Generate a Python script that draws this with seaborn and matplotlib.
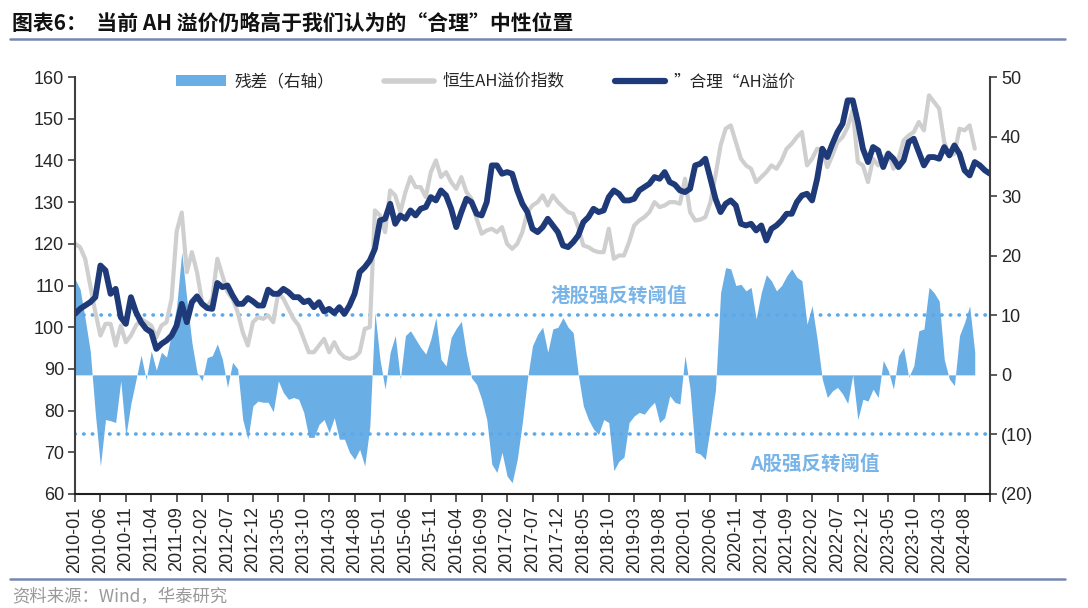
import numpy as np
import pandas as pd
import seaborn as sns
import matplotlib.pyplot as plt
from matplotlib.patches import Patch
from matplotlib.lines import Line2D
from matplotlib.ticker import FuncFormatter

# Monthly categories 2010-01 .. 2025-01
months = pd.period_range("2010-01", "2025-01", freq="M").strftime("%Y-%m").tolist()

# "合理" AH premium (left axis)
fair_premium = [
    103.2, 104.4, 105.2, 106.0, 107.2, 114.8, 113.6, 108.0, 109.2, 102.4,
    100.8, 107.2, 103.6, 101.2, 99.6, 98.8, 94.8, 96.0, 96.8, 98.0,
    100.4, 105.6, 101.2, 106.0, 107.4, 105.6, 104.6, 104.4, 110.6, 109.6,
    110.0, 107.6, 105.6, 105.6, 107.0, 106.2, 105.2, 105.2, 109.0, 108.0,
    108.0, 109.2, 108.4, 107.2, 107.2, 106.0, 106.4, 104.8, 106.0, 103.8,
    104.4, 103.4, 104.8, 103.2, 105.2, 108.0, 113.2, 114.4, 116.0, 118.8,
    125.6, 126.0, 129.6, 124.8, 126.8, 126.0, 128.0, 126.8, 128.4, 128.8,
    131.2, 130.4, 132.8, 131.6, 128.4, 124.0, 127.6, 130.8, 130.0, 127.2,
    126.8, 130.0, 138.8, 138.8, 136.8, 137.2, 136.8, 132.8, 129.6, 127.6,
    123.6, 122.8, 124.0, 126.0, 124.4, 122.8, 119.6, 119.2, 120.4, 122.0,
    125.2, 126.4, 128.4, 127.6, 128.0, 131.2, 132.8, 132.0, 130.4, 130.4,
    130.8, 132.8, 133.6, 134.4, 136.0, 135.6, 137.2, 134.8, 134.2, 132.8,
    132.4, 133.2, 138.8, 139.2, 140.4, 135.6, 130.8, 127.6, 129.6, 130.4,
    129.2, 124.8, 124.4, 124.8, 123.2, 124.4, 120.8, 123.6, 124.4, 125.6,
    127.2, 127.2, 130.0, 131.6, 132.0, 130.4, 135.6, 142.8, 140.8, 144.0,
    146.8, 148.8, 154.4, 154.4, 149.2, 142.8, 139.6, 143.2, 142.4, 138.4,
    141.6, 140.4, 138.4, 140.0, 144.4, 145.2, 142.0, 138.8, 140.8, 140.8,
    140.4, 143.2, 141.2, 143.6, 141.6, 137.6, 136.4, 139.6, 138.8, 137.6,
    136.8,
]

# 恒生AH溢价指数 (left axis)
hs_ah_index = [
    120.0, 119.2, 116.4, 110.0, 103.6, 98.0, 100.8, 100.8, 95.6, 100.4,
    96.4, 98.0, 100.4, 102.0, 101.2, 100.4, 97.6, 100.4, 101.2, 106.8,
    123.0, 127.5, 113.2, 118.0, 113.2, 106.0, 104.8, 106.8, 116.4, 112.4,
    108.4, 106.8, 103.6, 98.8, 95.6, 101.2, 102.4, 102.0, 102.8, 101.2,
    108.4, 106.8, 104.4, 102.0, 100.4, 97.2, 94.0, 94.0, 95.6, 97.2,
    94.0, 96.4, 94.0, 92.8, 92.4, 92.8, 94.0, 99.6, 100.0, 128.0,
    126.8, 122.8, 132.8, 131.6, 127.6, 132.4, 136.0, 133.6, 133.6, 131.2,
    137.2, 140.0, 136.0, 137.2, 134.8, 133.2, 136.0, 132.4, 130.8, 126.0,
    122.4, 123.2, 123.6, 122.8, 124.0, 120.0, 118.8, 120.0, 122.8, 127.6,
    129.2, 130.0, 131.6, 129.2, 131.6, 130.0, 128.8, 127.6, 127.2, 124.0,
    119.6, 119.2, 118.4, 118.0, 118.0, 123.6, 116.4, 117.2, 117.2, 120.4,
    124.4, 125.6, 126.4, 127.6, 130.0, 128.8, 129.2, 130.0, 130.0, 129.6,
    135.6, 127.6, 125.6, 125.8, 126.4, 130.0, 136.4, 143.6, 147.6, 148.4,
    144.4, 140.4, 138.8, 138.0, 134.8, 136.0, 137.2, 138.8, 138.0, 140.0,
    142.8, 144.0, 145.6, 146.8, 138.8, 140.4, 142.8, 142.4, 138.4, 141.2,
    144.4, 145.6, 148.0, 152.0, 139.6, 138.8, 134.8, 140.4, 138.8, 140.4,
    142.0, 138.0, 140.4, 144.8, 146.0, 146.8, 149.2, 147.2, 155.6, 154.0,
    152.4, 144.4, 141.2, 141.6, 147.6, 147.2, 148.4, 142.8,
] + [np.nan] * 3

# 残差 (right axis)
residual = [
    16.1, 14.4, 9.4, 4.0, -6.5, -15.3, -7.5, -7.7, -8.0, -1.0,
    -10.3, -4.8, -0.8, 3.3, -0.8, 4.0, 0.8, 3.8, 3.0, 7.0,
    11.5, 20.6, 12.7, 5.4, 0.4, -1.0, 2.9, 3.2, 5.2, 2.6,
    -2.1, 2.1, 1.0, -7.5, -10.8, -5.2, -4.4, -4.6, -4.6, -6.2,
    -1.0, -3.0, -4.1, -3.8, -4.1, -6.3, -10.5, -10.5, -8.3, -7.5,
    -9.7, -7.2, -10.8, -10.8, -13.0, -14.2, -12.5, -15.3, -8.6, 10.5,
    2.6, -2.4, 3.8, 6.6, -0.7, 6.6, 7.4, 6.0, 4.6, 3.5,
    6.0, 9.6, 2.6, 1.5, 6.3, 7.8, 9.0, 3.5, -0.5, -1.6,
    -4.1, -7.5, -15.0, -16.4, -13.0, -17.0, -18.1, -14.2, -8.0, -0.7,
    4.9, 6.8, 8.0, 3.8, 7.7, 8.0, 9.6, 8.0, 7.1, 0.1,
    -5.2, -7.5, -9.1, -10.0, -7.5, -8.0, -16.1, -14.5, -13.8, -8.0,
    -6.9, -6.3, -6.6, -5.5, -4.6, -8.0, -7.2, -3.5, -4.6, -4.9,
    3.2, -2.4, -13.0, -13.3, -14.2, -8.6, -2.5, 13.8, 18.0, 17.8,
    15.0, 15.2, 14.1, 14.7, 9.4, 13.8, 16.8, 15.8, 14.1, 15.0,
    16.6, 17.8, 16.4, 15.8, 8.5, 11.6, 6.0, -0.7, -3.8, -2.7,
    -2.1, -3.2, -4.8, 0.0, -7.5, -4.1, -4.4, -2.4, -3.8, 2.4,
    0.7, -2.4, 3.2, 4.6, -0.4, 1.5, 7.4, 7.7, 14.7, 13.8,
    12.4, 2.6, -0.7, -1.8, 6.6, 8.8, 11.6, 3.8,
] + [np.nan] * 3

thresholds = [10, -10]
left_ticks = list(range(60, 161, 10))
right_ticks = list(range(-20, 51, 10))

BLUE = "#6AAEE6"
GRAY = "#CFCFCF"
NAVY = "#1F3A78"
DOT = "#5CA8EA"
RULE = "#7388AE"

sns.set_theme(style="white")
plt.rcParams["font.family"] = ["Liberation Sans", "Noto Sans CJK SC", "DejaVu Sans"]

df = pd.DataFrame({
    "idx": np.arange(len(months)),
    "fair": fair_premium,
    "hs": hs_ah_index,
    "resid": residual,
})

fig = plt.figure(figsize=(10.88, 6.08), dpi=100)
ax = fig.add_axes([75 / 1088, 1 - 494 / 608, 915 / 1088, 417 / 608])
ax2 = ax.twinx()
ax.set_zorder(ax2.get_zorder() + 1)
ax.patch.set_visible(False)

# residual area on right axis
ax2.fill_between(df["idx"], 0, df["resid"], color=BLUE, linewidth=0)
for t in thresholds:
    ax2.axhline(t, color=DOT, linewidth=2.6, linestyle=(0, (0.1, 2.3)),
                dash_capstyle="round")
ax2.set_ylim(-20, 50)
ax2.set_yticks(right_ticks)
ax2.yaxis.set_major_formatter(FuncFormatter(
    lambda v, p: f"({abs(int(v))})" if v < 0 else f"{int(v)}"))

# lines on left axis
sns.lineplot(data=df, x="idx", y="hs", ax=ax, color=GRAY, linewidth=3.0)
sns.lineplot(data=df, x="idx", y="fair", ax=ax, color=NAVY, linewidth=4.2)
ax.set_ylim(60, 160)
ax.set_yticks(left_ticks)
ax.set_xlim(0, len(months) - 1)
xt = list(range(0, len(months), 5))
ax.set_xticks(xt + [len(months) - 1])
ax.set_xticklabels([months[i] for i in xt] + [""], rotation=90)
ax.set_xlabel("")
ax.set_ylabel("")

for a in (ax, ax2):
    a.grid(False)
    for s in a.spines.values():
        s.set_visible(False)
    a.tick_params(axis="both", labelsize=13, length=5, width=1.2,
                  color="#404040", direction="out", pad=3)
ax.spines["left"].set_visible(True)
ax.spines["left"].set_color("#404040")
ax.spines["left"].set_linewidth(1.5)
ax.spines["bottom"].set_visible(True)
ax.spines["bottom"].set_color("#202020")
ax.spines["bottom"].set_linewidth(1.5)
ax2.spines["right"].set_visible(True)
ax2.spines["right"].set_color("#404040")
ax2.spines["right"].set_linewidth(1.5)
ax.tick_params(axis="x", bottom=True, length=6)
ax.tick_params(axis="y", left=True)
ax2.tick_params(axis="y", right=True)

# threshold labels
ax2.text(107, 13.3, "港股强反转阈值", color="#78B4E8", fontsize=14,
         fontweight="bold", ha="center", va="center",
         family=["Noto Sans CJK SC"])
ax2.text(145.5, -15, "A股强反转阈值", color="#78B4E8", fontsize=14,
         fontweight="bold", ha="center", va="center",
         family=["Noto Sans CJK SC"])

# legend
handles = [
    Patch(facecolor=BLUE, edgecolor="none"),
    Line2D([], [], color=GRAY, linewidth=4, solid_capstyle="round"),
    Line2D([], [], color=NAVY, linewidth=4.5, solid_capstyle="round"),
]
labels = ["残差（右轴）", "恒生AH溢价指数", "”合理“AH溢价"]
fig.legend(handles, labels, loc="center left",
           bbox_to_anchor=(168 / 1088, 1 - 82 / 608), ncol=3, frameon=False,
           handlelength=3.0, handleheight=0.6,
           handletextpad=0.5, columnspacing=3.0, borderpad=0,
           prop={"family": ["Noto Sans CJK SC"], "size": 12})

# title, rules and source
fig.text(12 / 1088, 1 - 23 / 608, "图表6：  当前 AH 溢价仍略高于我们认为的“合理”中性位置",
         fontsize=15, fontweight="bold", ha="left", va="center",
         family=["Noto Sans CJK SC"], color="#111111")
fig.add_artist(Line2D([10 / 1088, 1065 / 1088], [1 - 39 / 608, 1 - 39 / 608],
                      color=RULE, linewidth=1.8))
fig.add_artist(Line2D([10 / 1088, 1065 / 1088], [1 - 579 / 608, 1 - 579 / 608],
                      color=RULE, linewidth=1.8))
fig.text(12 / 1088, 1 - 597 / 608, "资料来源：Wind，华泰研究", fontsize=12.5,
         ha="left", va="center", color="#999999",
         family=["Noto Sans CJK SC"])

fig.savefig("out.png", dpi=100)
